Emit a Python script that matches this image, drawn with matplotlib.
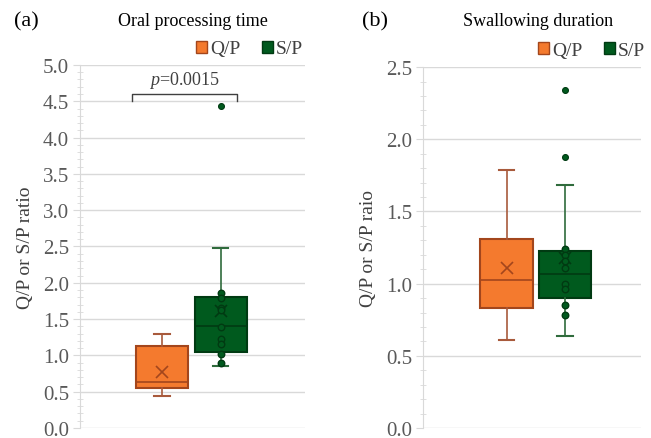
import matplotlib
matplotlib.use('Agg')
from matplotlib import pyplot as plt
from matplotlib.patches import Patch
from matplotlib.ticker import MultipleLocator, FormatStrFormatter

# group names
groups = ['Q/P', 'S/P']

# (a) oral processing time - box statistics
oral_lo = [0.44, 0.86]
oral_q1 = [0.55, 1.04]
oral_med = [0.64, 1.40]
oral_q3 = [1.13, 1.80]
oral_hi = [1.30, 2.48]
oral_mean = [0.77, 1.61]
oral_fliers = [[], [4.43]]
oral_points = [[], [1.86, 1.79, 1.65, 1.62, 1.39, 1.23, 1.15, 1.02, 0.895]]

# (b) swallowing duration
swal_lo = [0.61, 0.64]
swal_q1 = [0.83, 0.90]
swal_med = [1.025, 1.065]
swal_q3 = [1.31, 1.225]
swal_hi = [1.79, 1.68]
swal_mean = [1.11, 1.18]
swal_fliers = [[], [1.88, 2.34]]
swal_points = [[], [1.24, 1.20, 1.16, 1.11, 1.00, 0.96, 0.855, 0.78]]

face = ['#F47A2E', '#005A1E']
edge = ['#A3461C', '#003A12']
whisk = ['#A85A3C', '#2F6B3C']

plt.rcParams['font.family'] = ['Liberation Serif', 'DejaVu Serif']
plt.rcParams['mathtext.fontset'] = 'custom'
plt.rcParams['mathtext.it'] = 'Liberation Serif:italic'
plt.rcParams['mathtext.rm'] = 'Liberation Serif'

fig = plt.figure(figsize=(6.51, 4.39), dpi=100)
ax1 = fig.add_axes([0.1229, 0.0228, 0.3456, 0.827])
ax2 = fig.add_axes([0.6498, 0.0228, 0.335, 0.822])


def draw(ax, lo, q1, med, q3, hi, mean, fliers, points, pos, width, top,
         ylabel, leg_anchor):
    stats = []
    for i in range(len(groups)):
        stats.append(dict(whislo=lo[i], q1=q1[i], med=med[i], q3=q3[i],
                          whishi=hi[i], mean=mean[i], fliers=fliers[i], label=groups[i]))
    for i in range(len(groups)):
        ax.bxp([stats[i]], positions=[pos[i]], widths=width, patch_artist=True,
               showmeans=True, showfliers=False,
               boxprops=dict(facecolor=face[i], edgecolor=edge[i], linewidth=1.5),
               medianprops=dict(color=edge[i], linewidth=1.2),
               whiskerprops=dict(color=whisk[i], linewidth=1.2),
               capprops=dict(color=whisk[i], linewidth=1.5),
               capwidths=0.07,
               meanprops=dict(marker='x', markeredgecolor=edge[i], markersize=9,
                              markeredgewidth=1.2))
        if points[i]:
            ax.scatter([pos[i]] * len(points[i]), points[i], s=22, facecolor=face[i],
                       edgecolor=edge[i], linewidth=1.0, zorder=4)
        if fliers[i]:
            ax.scatter([pos[i]] * len(fliers[i]), fliers[i], s=18, facecolor=face[i],
                       edgecolor=edge[i], linewidth=0.8, zorder=4)
    ax.set_xlim(0, 1)
    ax.set_ylim(0, top)
    ax.set_xticks([])
    ax.yaxis.set_major_locator(MultipleLocator(0.5))
    ax.yaxis.set_minor_locator(MultipleLocator(0.1))
    ax.yaxis.set_major_formatter(FormatStrFormatter('%.1f'))
    ax.grid(axis='y', color='#D9D9D9', linewidth=1.0)
    ax.set_axisbelow(True)
    for s in ['top', 'right', 'bottom']:
        ax.spines[s].set_visible(False)
    ax.spines['left'].set_color('#D9D9D9')
    ax.tick_params(axis='y', which='major', direction='out', length=5, color='#D9D9D9',
                   labelsize=15, labelcolor='#595959', pad=3)
    ax.tick_params(axis='y', which='minor', direction='inout', length=4, color='#D9D9D9')
    ax.set_ylabel(ylabel, fontsize=14, color='#404040', labelpad=6)
    handles = [Patch(facecolor=face[i], edgecolor=edge[i], label=groups[i]) for i in range(2)]
    ax.legend(handles=handles, loc='center right', bbox_to_anchor=leg_anchor, ncol=2,
              frameon=False, fontsize=14, handlelength=0.57, handleheight=0.57,
              handletextpad=0.15, columnspacing=1.1, borderaxespad=0, borderpad=0,
              labelcolor='#404040')


draw(ax1, oral_lo, oral_q1, oral_med, oral_q3, oral_hi, oral_mean, oral_fliers,
     oral_points, [0.366, 0.625], 0.231, 5.0, 'Q/P or S/P ratio', (0.991, 1.044))
draw(ax2, swal_lo, swal_q1, swal_med, swal_q3, swal_hi, swal_mean, swal_fliers,
     swal_points, [0.384, 0.651], 0.241, 2.5, 'Q/P or S/P raio', (1.018, 1.047))

# significance bracket
ax1.plot([0.23, 0.23, 0.70, 0.70], [4.51, 4.60, 4.60, 4.51], color='#404040', linewidth=1.0)
ax1.text(0.465, 4.66, r'$p$=0.0015', ha='center', va='bottom', fontsize=13, color='#404040')

fig.text(0.040, 0.95, '(a)', ha='center', va='center', fontsize=16)
fig.text(0.296, 0.95, 'Oral processing time', ha='center', va='center', fontsize=13)
fig.text(0.576, 0.95, '(b)', ha='center', va='center', fontsize=16)
fig.text(0.826, 0.95, 'Swallowing duration', ha='center', va='center', fontsize=13)

plt.savefig('out.png', dpi=100)
